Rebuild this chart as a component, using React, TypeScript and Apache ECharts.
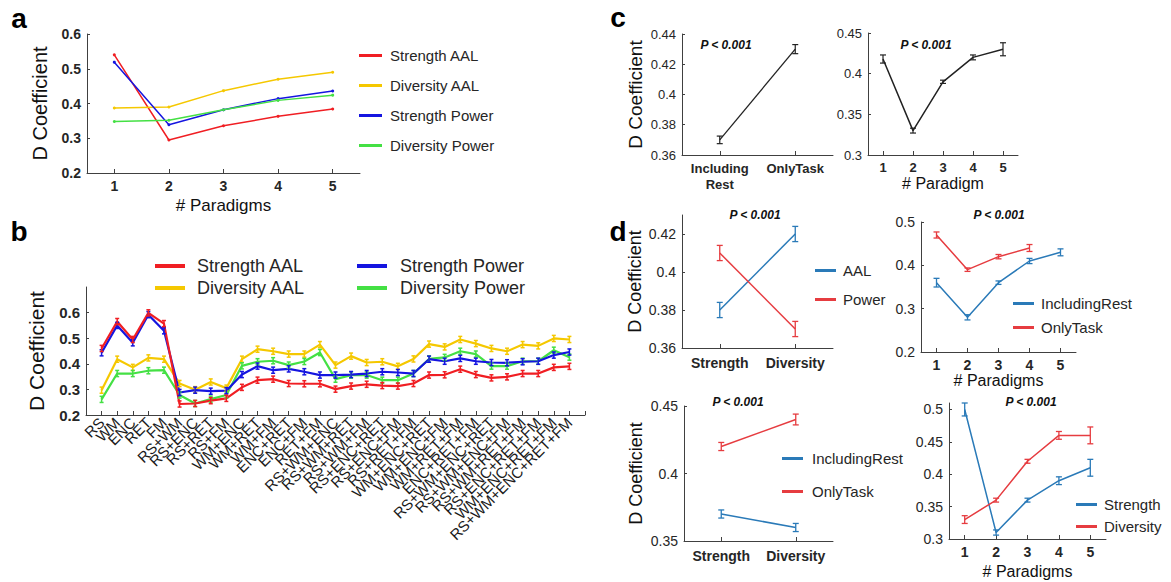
import React, { useEffect, useRef } from "react";
import * as echarts from "echarts";

const FONT = '"Liberation Sans", Arial, Helvetica, sans-serif';
const INK = "#262626";
const AXIS = "#404040";

// Panel a
const paradigmTicks = ["1", "2", "3", "4", "5"];
const aStrengthAAL = [0.54, 0.295, 0.336, 0.363, 0.384];
const aDiversityAAL = [0.387, 0.39, 0.437, 0.47, 0.49];
const aStrengthPower = [0.519, 0.339, 0.382, 0.414, 0.436];
const aDiversityPower = [0.348, 0.352, 0.382, 0.409, 0.424];

// Panel b
const bCombos = [
  "RS", "WM", "ENC", "RET", "FM",
  "RS+WM", "RS+ENC", "RS+RET", "RS+FM", "WM+ENC", "WM+RET", "WM+FM", "ENC+RET", "ENC+FM", "RET+FM",
  "RS+WM+ENC", "RS+WM+RET", "RS+WM+FM", "RS+ENC+RET", "RS+ENC+FM", "RS+RET+FM", "WM+ENC+RET", "WM+ENC+FM", "WM+RET+FM", "ENC+RET+FM",
  "RS+WM+ENC+RET", "RS+WM+ENC+FM", "RS+WM+RET+FM", "RS+ENC+RET+FM", "WM+ENC+RET+FM",
  "RS+WM+ENC+RET+FM",
];
const bStrengthAAL = [0.46, 0.565, 0.495, 0.599, 0.557, 0.243, 0.245, 0.256, 0.265, 0.308, 0.336, 0.34, 0.323, 0.322, 0.322, 0.301, 0.313, 0.32, 0.315, 0.313, 0.323, 0.356, 0.357, 0.379, 0.358, 0.345, 0.349, 0.362, 0.362, 0.386, 0.39];
const bDiversityAAL = [0.297, 0.418, 0.386, 0.423, 0.418, 0.323, 0.299, 0.329, 0.305, 0.418, 0.457, 0.449, 0.438, 0.438, 0.475, 0.395, 0.43, 0.405, 0.408, 0.39, 0.419, 0.477, 0.466, 0.495, 0.479, 0.46, 0.449, 0.475, 0.47, 0.499, 0.495];
const bStrengthPower = [0.443, 0.55, 0.482, 0.592, 0.529, 0.288, 0.297, 0.293, 0.295, 0.358, 0.391, 0.375, 0.38, 0.369, 0.356, 0.356, 0.358, 0.362, 0.369, 0.366, 0.362, 0.418, 0.41, 0.421, 0.41, 0.405, 0.404, 0.408, 0.41, 0.434, 0.446];
const bDiversityPower = [0.261, 0.362, 0.362, 0.373, 0.375, 0.278, 0.245, 0.262, 0.278, 0.392, 0.408, 0.412, 0.395, 0.409, 0.444, 0.34, 0.356, 0.356, 0.336, 0.336, 0.362, 0.419, 0.425, 0.449, 0.438, 0.391, 0.391, 0.41, 0.41, 0.453, 0.426];
const B_ERR = 0.012;

// Panel c
const cRestTaskCats = ["Including\nRest", "OnlyTask"];
const cRestTask = [0.37, 0.43];
const cRestTaskErr = [0.0025, 0.003];
const cParadigm = [0.418, 0.33, 0.39, 0.42, 0.43];
const cParadigmErr = [0.005, 0.003, 0.002, 0.003, 0.008];

// Panel d
const measureCats = ["Strength", "Diversity"];
const d1AAL = [0.38, 0.42];
const d1AALErr = [0.004, 0.004];
const d1Power = [0.41, 0.37];
const d1PowerErr = [0.004, 0.004];
const d2IncludingRest = [0.36, 0.28, 0.36, 0.41, 0.43];
const d2IncludingRestErr = [0.01, 0.006, 0.004, 0.006, 0.008];
const d2OnlyTask = [0.47, 0.39, 0.42, 0.44, null];
const d2OnlyTaskErr = [0.007, 0.004, 0.005, 0.008, 0];
const d3IncludingRest = [0.37, 0.36];
const d3IncludingRestErr = [0.003, 0.003];
const d3OnlyTask = [0.42, 0.44];
const d3OnlyTaskErr = [0.003, 0.004];
const d4Strength = [0.5, 0.31, 0.36, 0.39, 0.41];
const d4StrengthErr = [0.01, 0.004, 0.003, 0.006, 0.013];
const d4Diversity = [0.33, 0.36, 0.42, 0.46, 0.46];
const d4DiversityErr = [0.006, 0.003, 0.003, 0.006, 0.013];

const RED = "#f01e23";
const YELLOW = "#f5c800";
const BLUE = "#1515e0";
const GREEN = "#44e044";
const DBLUE = "#2a7ab8";
const DRED = "#e63c40";
const BLACK = "#222222";

function errSeries(xi: number, yi: number, vals: (number | null)[], errs: number[], color: string, cap: number, lw: number, xOffset = 0) {
  const data: number[][] = [];
  vals.forEach((v, i) => {
    if (v == null) return;
    data.push([i + xOffset, v - errs[i], v + errs[i]]);
  });
  return {
    type: "custom",
    xAxisIndex: xi,
    yAxisIndex: yi,
    silent: true,
    z: 4,
    data,
    encode: { x: 0, y: [1, 2] },
    renderItem: (_p: any, api: any) => {
      const x = api.value(0);
      const lo = api.coord([x, api.value(1)]);
      const hi = api.coord([x, api.value(2)]);
      const style = { stroke: color, lineWidth: lw };
      const children: any[] = [
        { type: "line", shape: { x1: lo[0], y1: lo[1], x2: hi[0], y2: hi[1] }, style },
      ];
      if (cap > 0) {
        children.push({ type: "line", shape: { x1: lo[0] - cap, y1: lo[1], x2: lo[0] + cap, y2: lo[1] }, style });
        children.push({ type: "line", shape: { x1: hi[0] - cap, y1: hi[1], x2: hi[0] + cap, y2: hi[1] }, style });
      }
      return { type: "group", children };
    },
  };
}

function lineSeries(name: string | undefined, xi: number, yi: number, data: any[], color: string, lw: number, symbol = false) {
  return {
    type: "line",
    name,
    xAxisIndex: xi,
    yAxisIndex: yi,
    data,
    color,
    itemStyle: { color },
    lineStyle: { color, width: lw },
    symbol: "circle",
    symbolSize: 3,
    showSymbol: symbol,
    connectNulls: false,
    z: 3,
  };
}

function catAxis(gridIndex: number, data: string[], opts: any = {}) {
  return {
    type: "category",
    gridIndex,
    data,
    boundaryGap: true,
    axisLine: { lineStyle: { color: AXIS, width: 1 } },
    axisTick: { show: true, inside: true, length: 4, alignWithLabel: true, interval: 0, lineStyle: { color: AXIS } },
    axisLabel: { color: INK, fontSize: 14, fontWeight: "bold", margin: 6, interval: 0, fontFamily: FONT, ...(opts.axisLabel || {}) },
    splitLine: { show: false },
    ...(opts.rest || {}),
  };
}

function valY(gridIndex: number, min: number, max: number, interval: number, opts: any = {}) {
  return {
    type: "value",
    gridIndex,
    min,
    max,
    interval,
    axisLine: { show: true, lineStyle: { color: AXIS, width: 1 } },
    axisTick: { show: true, inside: true, length: 3, lineStyle: { color: AXIS } },
    axisLabel: { color: INK, fontSize: 14, margin: 6, fontFamily: FONT, ...(opts.axisLabel || {}) },
    splitLine: { show: false },
    ...(opts.rest || {}),
  };
}

function legendBox(names: string[], left: number, top: number, o: any) {
  return {
    data: names,
    orient: "vertical",
    left,
    top,
    padding: 0,
    icon: "rect",
    itemWidth: o.w,
    itemHeight: o.h,
    itemGap: o.gap,
    selectedMode: false,
    textStyle: { color: INK, fontSize: o.fs, fontFamily: FONT, padding: [0, 0, 0, o.tp || 0] },
  };
}

function pText(x: number, y: number) {
  return {
    type: "text",
    x,
    y,
    style: { text: "P < 0.001", font: `italic bold 12px ${FONT}`, fill: "#111", textAlign: "center", textVerticalAlign: "middle" },
  };
}

function letter(t: string, x: number, y: number) {
  return {
    type: "text",
    x,
    y,
    style: { text: t, font: `bold 28px ${FONT}`, fill: "#000", textAlign: "center", textVerticalAlign: "middle" },
  };
}

const yName = (name: string, gap: number, fs: number) => ({
  name,
  nameLocation: "middle",
  nameGap: gap,
  nameTextStyle: { color: "#111", fontSize: fs, fontFamily: FONT },
});
const xName = (name: string, gap: number, fs: number) => ({
  name,
  nameLocation: "middle",
  nameGap: gap,
  nameTextStyle: { color: "#111", fontSize: fs, fontFamily: FONT },
});

export default function App() {
  const ref = useRef<HTMLDivElement>(null);
  useEffect(() => {
    if (!ref.current) return;
    const chart = echarts.init(ref.current, undefined, { renderer: "svg" });
    const bPts = (vals: number[]) => vals.map((v, i) => [i + 1, v]);

    const option: any = {
      animation: false,
      backgroundColor: "#ffffff",
      textStyle: { fontFamily: FONT },
      grid: [
        { left: 87, top: 34, width: 273, height: 139 },
        { left: 86, top: 287, width: 499, height: 128 },
        { left: 682, top: 34, width: 151, height: 121 },
        { left: 868, top: 33, width: 150, height: 122 },
        { left: 682, top: 215, width: 151, height: 133 },
        { left: 921, top: 222, width: 155, height: 130 },
        { left: 684, top: 406, width: 149, height: 135 },
        { left: 949, top: 403, width: 157, height: 136 },
      ],
      xAxis: [
        catAxis(0, paradigmTicks, { rest: xName("# Paradigms", 24, 17) }),
        {
          type: "value",
          gridIndex: 1,
          min: 0,
          max: 32,
          interval: 1,
          axisLine: { lineStyle: { color: AXIS, width: 1 } },
          axisTick: { show: true, inside: true, length: 4, lineStyle: { color: AXIS } },
          axisLabel: {
            color: "#1a1a1a",
            fontSize: 15,
            rotate: 45,
            margin: 5,
            fontFamily: FONT,
            formatter: (v: number) => (v >= 1 && v <= bCombos.length ? bCombos[v - 1] : ""),
          },
          splitLine: { show: false },
        },
        catAxis(2, cRestTaskCats, { axisLabel: { fontSize: 13, lineHeight: 16, margin: 5 } }),
        catAxis(3, paradigmTicks, { axisLabel: { fontSize: 13 }, rest: xName("# Paradigm", 20, 16) }),
        catAxis(4, measureCats, { axisLabel: { fontSize: 14, margin: 8 } }),
        catAxis(5, paradigmTicks, { axisLabel: { fontSize: 14 }, rest: xName("# Paradigms", 20, 16) }),
        catAxis(6, measureCats, { axisLabel: { fontSize: 14, margin: 8 } }),
        catAxis(7, paradigmTicks, { axisLabel: { fontSize: 14 }, rest: xName("# Paradigms", 24, 16) }),
      ],
      yAxis: [
        valY(0, 0.2, 0.6, 0.1, { axisLabel: { fontWeight: "bold" }, rest: yName("D Coefficient", 37, 20) }),
        valY(1, 0.2, 0.7, 0.1, { axisLabel: { fontWeight: "bold", fontSize: 15, showMaxLabel: false }, rest: yName("D Coefficient", 39, 21) }),
        valY(2, 0.36, 0.44, 0.02, { axisLabel: { fontSize: 13 }, rest: yName("D Coefficient", 37, 19) }),
        valY(3, 0.3, 0.45, 0.05, { axisLabel: { fontSize: 13 } }),
        valY(4, 0.36, 0.43, 0.02, { axisLabel: { showMaxLabel: false }, rest: yName("D Coefficient", 38, 18) }),
        valY(5, 0.2, 0.5, 0.1, {}),
        valY(6, 0.35, 0.45, 0.05, { rest: yName("D Coefficient", 39, 18) }),
        valY(7, 0.3, 0.51, 0.05, { axisLabel: { showMaxLabel: false } }),
      ],
      legend: [
        legendBox(["Strength AAL", "Diversity AAL", "Strength Power", "Diversity Power"], 359, 48, { w: 23, h: 3, gap: 15, fs: 15, tp: 3 }),
        legendBox(["Strength AAL", "Diversity AAL"], 155, 257, { w: 30, h: 4, gap: 4, fs: 18, tp: 7 }),
        legendBox(["Strength Power", "Diversity Power"], 357, 257, { w: 30, h: 4, gap: 4, fs: 18, tp: 8 }),
        legendBox(["AAL", "Power"], 815, 263, { w: 21, h: 3, gap: 14, fs: 15, tp: 2 }),
        legendBox(["IncludingRest", "OnlyTask"], 1013, 296, { w: 21, h: 3, gap: 9, fs: 15, tp: 2 }),
        legendBox(["IncludingRest", "OnlyTask"], 782, 451, { w: 21, h: 3, gap: 18, fs: 15, tp: 4 }),
        legendBox(["Strength", "Diversity"], 1076, 497, { w: 21, h: 3, gap: 7, fs: 15, tp: 2 }),
      ],
      graphic: [
        letter("a", 19, 18),
        letter("b", 19, 231),
        letter("c", 618, 17),
        letter("d", 618, 231),
        pText(726, 45),
        pText(926, 45),
        pText(755, 215),
        pText(999, 215),
        pText(738, 402),
        pText(1031, 402),
      ],
      series: [
        // a
        lineSeries("Strength AAL", 0, 0, aStrengthAAL, RED, 1.5, true),
        lineSeries("Diversity AAL", 0, 0, aDiversityAAL, YELLOW, 1.5, true),
        lineSeries("Strength Power", 0, 0, aStrengthPower, BLUE, 1.5, true),
        lineSeries("Diversity Power", 0, 0, aDiversityPower, GREEN, 1.5, true),
        // b
        lineSeries("Diversity AAL", 1, 1, bPts(bDiversityAAL), YELLOW, 2.2),
        lineSeries("Diversity Power", 1, 1, bPts(bDiversityPower), GREEN, 2.2),
        lineSeries("Strength Power", 1, 1, bPts(bStrengthPower), BLUE, 2.2),
        lineSeries("Strength AAL", 1, 1, bPts(bStrengthAAL), RED, 2.2),
        errSeries(1, 1, bDiversityAAL, bDiversityAAL.map(() => B_ERR), YELLOW, 2, 1.5, 1),
        errSeries(1, 1, bDiversityPower, bDiversityPower.map(() => B_ERR), GREEN, 2, 1.5, 1),
        errSeries(1, 1, bStrengthPower, bStrengthPower.map(() => B_ERR), BLUE, 2, 1.5, 1),
        errSeries(1, 1, bStrengthAAL, bStrengthAAL.map(() => B_ERR), RED, 2, 1.5, 1),
        // c
        lineSeries(undefined, 2, 2, cRestTask, BLACK, 1.3),
        errSeries(2, 2, cRestTask, cRestTaskErr, BLACK, 3, 1.2),
        lineSeries(undefined, 3, 3, cParadigm, BLACK, 1.5),
        errSeries(3, 3, cParadigm, cParadigmErr, BLACK, 3, 1.2),
        // d1
        lineSeries("AAL", 4, 4, d1AAL, DBLUE, 1.5),
        lineSeries("Power", 4, 4, d1Power, DRED, 1.5),
        errSeries(4, 4, d1AAL, d1AALErr, DBLUE, 3, 1.3),
        errSeries(4, 4, d1Power, d1PowerErr, DRED, 3, 1.3),
        // d2
        lineSeries("IncludingRest", 5, 5, d2IncludingRest, DBLUE, 1.5),
        lineSeries("OnlyTask", 5, 5, d2OnlyTask, DRED, 1.5),
        errSeries(5, 5, d2IncludingRest, d2IncludingRestErr, DBLUE, 3, 1.3),
        errSeries(5, 5, d2OnlyTask, d2OnlyTaskErr, DRED, 3, 1.3),
        // d3
        lineSeries("IncludingRest", 6, 6, d3IncludingRest, DBLUE, 1.5),
        lineSeries("OnlyTask", 6, 6, d3OnlyTask, DRED, 1.5),
        errSeries(6, 6, d3IncludingRest, d3IncludingRestErr, DBLUE, 3, 1.3),
        errSeries(6, 6, d3OnlyTask, d3OnlyTaskErr, DRED, 3, 1.3),
        // d4
        lineSeries("Strength", 7, 7, d4Strength, DBLUE, 1.5),
        lineSeries("Diversity", 7, 7, d4Diversity, DRED, 1.5),
        errSeries(7, 7, d4Strength, d4StrengthErr, DBLUE, 3, 1.3),
        errSeries(7, 7, d4Diversity, d4DiversityErr, DRED, 3, 1.3),
      ],
    };
    chart.setOption(option);
    return () => chart.dispose();
  }, []);

  return (
    <div
      ref={ref}
      style={{ position: "fixed", left: 0, top: 0, width: 1171, height: 582, background: "#ffffff" }}
    />
  );
}
